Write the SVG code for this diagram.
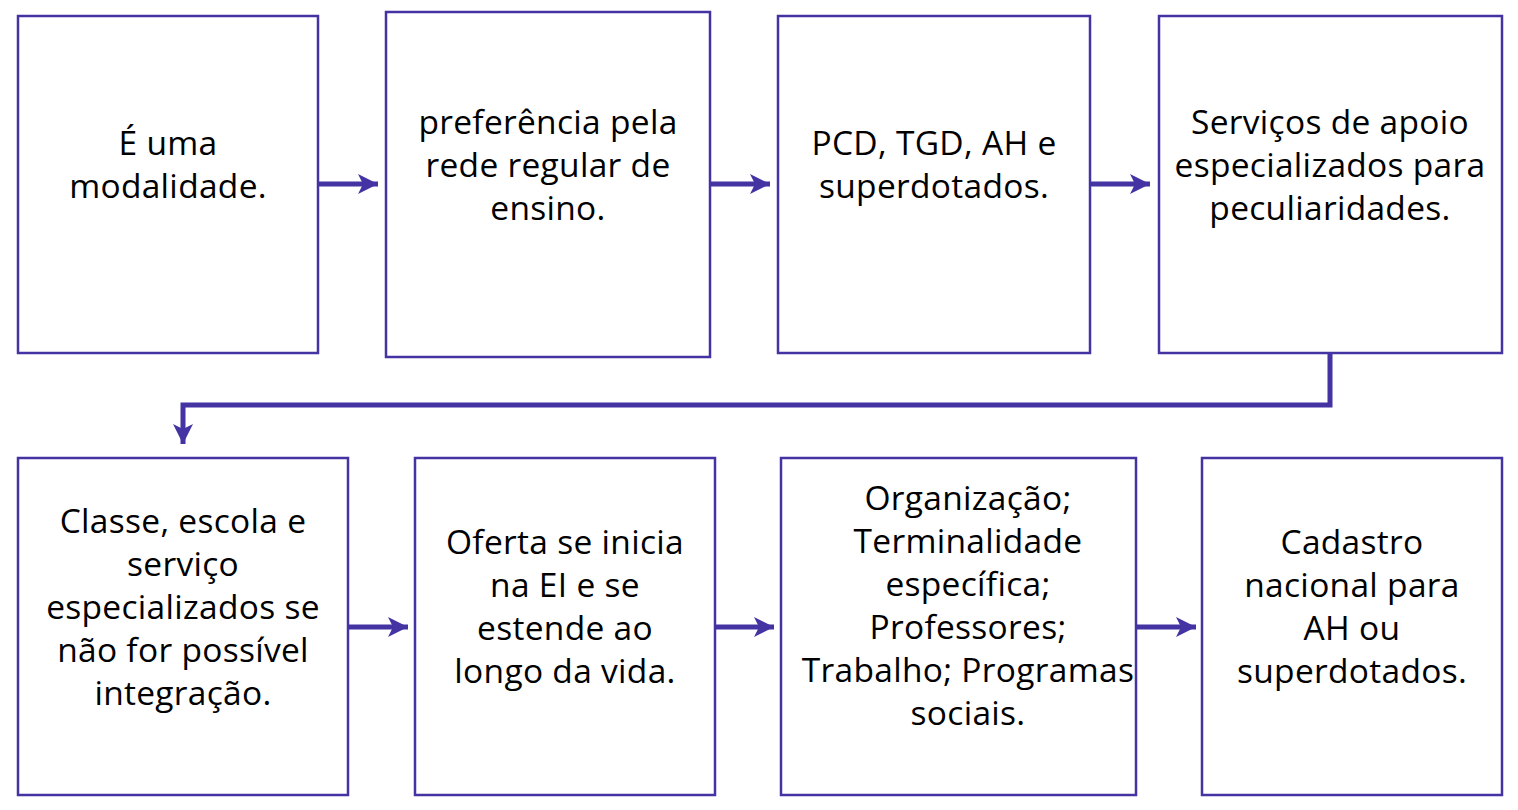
<svg xmlns="http://www.w3.org/2000/svg" width="1518" height="810" viewBox="0 0 1518 810">
<style>
.box{fill:#fff;stroke:#4433a3;stroke-width:2.5}
.t{font-family:"Open Sans","Noto Sans",sans-serif;font-size:33.5px;letter-spacing:0.3px;fill:#000;text-anchor:middle}
.c{fill:none;stroke:#4433a3;stroke-width:5}
</style>
<defs>
<marker id="ah" viewBox="0 0 10 10" refX="10" refY="5" markerWidth="4" markerHeight="4" markerUnits="strokeWidth" orient="auto">
<path d="M0,0 L10,5 L0,10 L2.5,5 Z" fill="#4433a3"/>
</marker>
</defs>
<rect width="1518" height="810" fill="#fff"/>
<g id="connectors">
<path class="c" d="M318,184 H378" marker-end="url(#ah)"/>
<path class="c" d="M710,184 H770" marker-end="url(#ah)"/>
<path class="c" d="M1090,184 H1150" marker-end="url(#ah)"/>
<path class="c" d="M1330,353 V405 H183 V444" marker-end="url(#ah)"/>
<path class="c" d="M348,627 H408" marker-end="url(#ah)"/>
<path class="c" d="M715,627 H774" marker-end="url(#ah)"/>
<path class="c" d="M1136,627 H1196" marker-end="url(#ah)"/>
</g>
<g id="n1"><rect class="box" x="18" y="16" width="300" height="337"/>
<text class="t" x="168" y="155">É uma</text><text class="t" x="168" y="198">modalidade.</text></g>
<g id="n2"><rect class="box" x="386" y="12" width="324" height="345"/>
<text class="t" x="548" y="134">preferência pela</text><text class="t" x="548" y="177">rede regular de</text><text class="t" x="548" y="220">ensino.</text></g>
<g id="n3"><rect class="box" x="778" y="16" width="312" height="337"/>
<text class="t" x="934" y="155">PCD, TGD, AH e</text><text class="t" x="934" y="198">superdotados.</text></g>
<g id="n4"><rect class="box" x="1159" y="16" width="343" height="337"/>
<text class="t" x="1330" y="134">Serviços de apoio</text><text class="t" x="1330" y="177">especializados para</text><text class="t" x="1330" y="220">peculiaridades.</text></g>
<g id="n5"><rect class="box" x="18" y="458" width="330" height="337"/>
<text class="t" x="183" y="533">Classe, escola e</text><text class="t" x="183" y="576">serviço</text><text class="t" x="183" y="619">especializados se</text><text class="t" x="183" y="662">não for possível</text><text class="t" x="183" y="705">integração.</text></g>
<g id="n6"><rect class="box" x="415" y="458" width="300" height="337"/>
<text class="t" x="565" y="554">Oferta se inicia</text><text class="t" x="565" y="597">na EI e se</text><text class="t" x="565" y="640">estende ao</text><text class="t" x="565" y="683">longo da vida.</text></g>
<g id="n7"><rect class="box" x="781" y="458" width="355" height="337"/>
<text class="t" x="968" y="510">Organização;</text><text class="t" x="968" y="553">Terminalidade</text><text class="t" x="968" y="596">específica;</text><text class="t" x="968" y="639">Professores;</text><text class="t" x="968" y="682">Trabalho; Programas</text><text class="t" x="968" y="725">sociais.</text></g>
<g id="n8"><rect class="box" x="1202" y="458" width="300" height="337"/>
<text class="t" x="1352" y="554">Cadastro</text><text class="t" x="1352" y="597">nacional para</text><text class="t" x="1352" y="640">AH ou</text><text class="t" x="1352" y="683">superdotados.</text></g>
</svg>
